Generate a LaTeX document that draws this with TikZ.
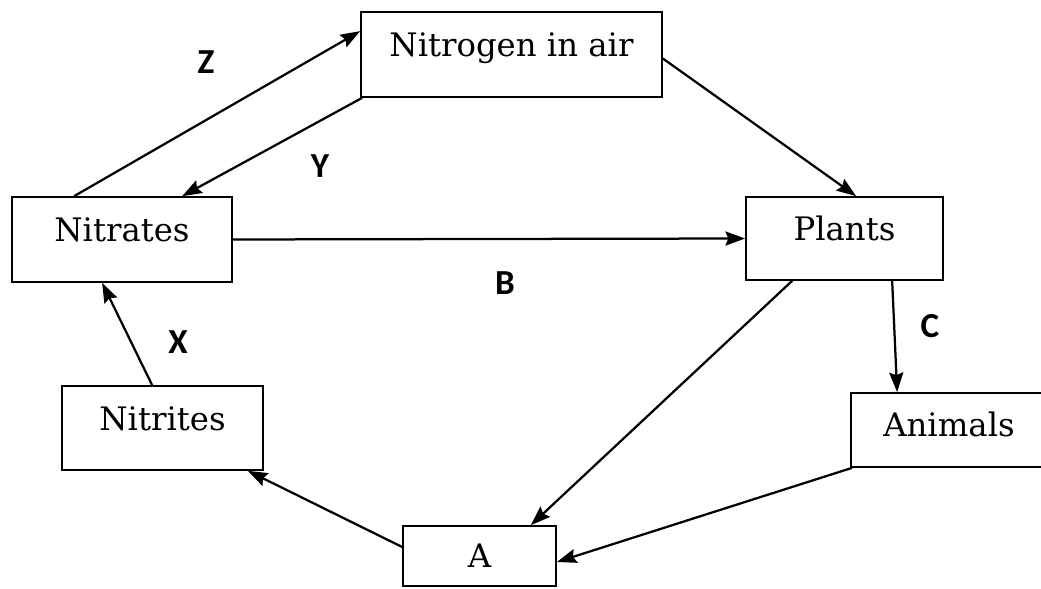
\documentclass[tikz,border=0pt]{standalone}
\usepackage{fontspec}
\setmainfont{DejaVu Serif}
\newfontfamily\labelfont{Carlito}
\usetikzlibrary{calc,arrows.meta}
\begin{document}
\begin{tikzpicture}[x=0.025cm, y=-0.025cm,
  stagebox/.style={draw, line width=1.2pt, inner sep=0pt, text depth=14pt, font=\fontsize{23}{23}\selectfont},
  flow/.style={line width=1.6pt, -{Stealth[length=14pt, width=10pt, inset=2pt]}},
  letter/.style={font=\labelfont\bfseries\fontsize{25}{25}\selectfont}]
\useasboundingbox (0,0) rectangle (1041,589);
\node[stagebox, minimum width=301*0.025cm, minimum height=85*0.025cm] (air) at (511.5,54.5) {Nitrogen in air};
\node[stagebox, minimum width=220*0.025cm, minimum height=85*0.025cm] (nitrates) at (122,239.5) {Nitrates};
\node[stagebox, minimum width=197*0.025cm, minimum height=83*0.025cm] (plants) at (844.5,238.5) {Plants};
\node[stagebox, minimum width=201*0.025cm, minimum height=84*0.025cm] (nitrites) at (162.5,428) {Nitrites};
\node[stagebox, minimum width=196*0.025cm, minimum height=74*0.025cm, text depth=8pt] (animals) at (949,430) {Animals};
\node[stagebox, minimum width=153*0.025cm, minimum height=60*0.025cm, text depth=0pt] (a) at (479.5,556) {A};
% connectors
\draw[flow] ($(nitrates.north west)+(63,0)$) -- ($(air.north west)+(0,20)$);
\draw[flow] ($(air.south west)+(2,0)$) -- ($(nitrates.north west)+(171,0)$);
\draw[flow] ($(air.east)+(0,4)$) -- ($(plants.north west)+(111,0)$);
\draw[flow] (nitrates.east) -- (plants.west);
\draw[flow] ($(plants.south west)+(147,0)$) -- ($(animals.north west)+(47,0)$);
\draw[flow] ($(plants.south west)+(47,0)$) -- ($(a.north east)+(-26,0)$);
\draw[flow] ($(animals.south west)+(2,0)$) -- ($(a.east)+(0,6)$);
\draw[flow] ($(a.west)+(0,-9)$) -- ($(nitrites.south east)+(-16,0)$);
\draw[flow] ($(nitrites.north west)+(91,0)$) -- ($(nitrates.south west)+(91,0)$);
% labels
\node[letter] (z) at (206,62) {Z};
\node[letter] (y) at (320,166) {Y};
\node[letter] (b) at (505,283) {B};
\node[letter] (x) at (178,342) {X};
\node[letter] (c) at (930,326) {C};
\end{tikzpicture}
\end{document}
